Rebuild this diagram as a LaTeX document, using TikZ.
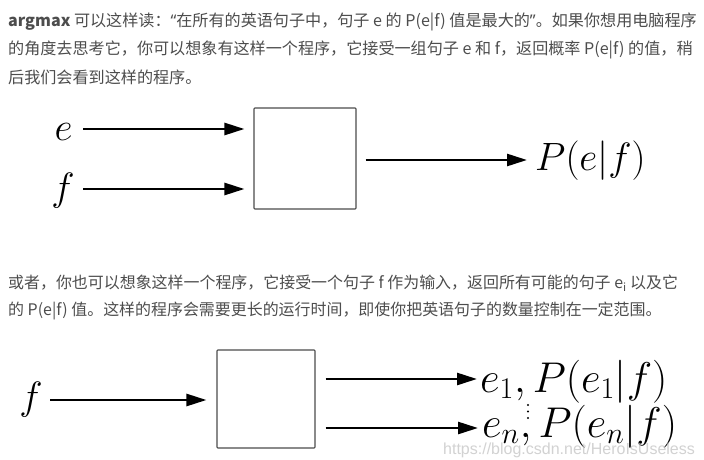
\RequirePackage{fix-cm}
\documentclass[tikz,border=0pt]{standalone}
\usepackage[no-math]{fontspec}
\usepackage{graphicx}
\usetikzlibrary{arrows.meta}
\newfontfamily\cjk{Noto Sans CJK SC}
\newfontfamily\latn{Noto Sans}
\newfontfamily\wmfont{Liberation Sans}
\definecolor{txtgray}{HTML}{4D4D4D}
\newcommand{\myLQ}{{\latn “}}
\newcommand{\myRQ}{{\latn ”}}
\tikzset{
  para/.style={anchor=base west, inner sep=0pt, text=txtgray, font=\cjk\fontsize{16.1}{20}\selectfont},
  paratwo/.style={para, font=\cjk\fontsize{15.95}{20}\selectfont},
  mathlbl/.style={inner sep=0pt, font=\fontsize{39.5}{44}\selectfont},
  biglbl/.style={inner sep=0pt, font=\fontsize{43}{48}\selectfont},
  arr/.style={line width=2.6pt, -{Triangle[length=20pt,width=12pt]}},
  procbox/.style={draw=black!70, line width=1.1pt, rounded corners=0.8pt, inner sep=0pt},
  wmark/.style={anchor=west, inner sep=0pt, text=gray!50, opacity=0.7, font=\wmfont\fontsize{16}{18}\selectfont}
}
\begin{document}
\begin{tikzpicture}[x=1pt,y=-1pt]
\fill[white] (0,0) rectangle (704,460);
\useasboundingbox (0,0) rectangle (704,460);

% paragraph 1
\node[para] (t1) at (8,27) {{\bfseries argmax} 可以这样读：\myLQ 在所有的英语句子中，句子 e 的 P(e|f) 值是最大的\myRQ 。如果你想用电脑程序};
\node[para] (t2) at (8,55) {的角度去思考它，你可以想象有这样一个程序，它接受一组句子 e 和 f，返回概率 P(e|f) 的值，稍};
\node[para] (t3) at (8,83) {后我们会看到这样的程序。};

% diagram 1
\node[mathlbl, anchor=base] (eL) at (63.5,140) {$e$};
\node[mathlbl, anchor=base] (fL) at (63,200) {$f$};
\node[procbox, minimum width=102pt, minimum height=101pt] (box1) at (305,158.5) {};
\node[mathlbl, anchor=base west] (P1) at (535,170) {$P(e|f)$};
\coordinate (ea) at (83,129);
\coordinate (fa) at (83,189);
\draw[arr, shorten >=9pt] (ea) -- (box1.west |- ea);
\draw[arr, shorten >=9pt] (fa) -- (box1.west |- fa);
\draw[arr, shorten <=9pt, shorten >=8pt] (box1.east |- 0,160) -- (P1.west |- 0,160);

% paragraph 2
\node[paratwo] (t4) at (8,288) {或者，你也可以想象这样一个程序，它接受一个句子 f 作为输入，返回所有可能的句子 e\textsubscript{i} 以及它};
\node[paratwo] (t5) at (8,315) {的 P(e|f) 值。这样的程序会需要更长的运行时间，即使你把英语句子的数量控制在一定范围。};

% diagram 2
\node[mathlbl, anchor=base] (fL2) at (31,409.6) {$f$};
\node[procbox, minimum width=98pt, minimum height=98pt] (box2) at (266,399) {};
\node[biglbl, anchor=base west] (o1) at (480,392) {$e_1, P(e_1|f)$};
\node[biglbl, anchor=base west] (o2) at (482,437) {$e_n, P(e_n|f)$};
\coordinate (fb) at (50,400);
\draw[arr, shorten >=10pt] (fb) -- (box2.west |- fb);
\draw[arr, shorten <=10pt, shorten >=3pt] (box2.east |- 0,379) -- (o1.west |- 0,379);
\draw[arr, shorten <=10pt, shorten >=4pt] (box2.east |- 0,428) -- (o2.west |- 0,428);
\fill (528,405) circle (1.2pt);
\fill (528,411.5) circle (1.2pt);
\fill (528,418) circle (1.2pt);

% watermark
\node[wmark] (wm) at (443,450) {https://blog.csdn.net/HeroIsUseless};
\end{tikzpicture}
\end{document}
